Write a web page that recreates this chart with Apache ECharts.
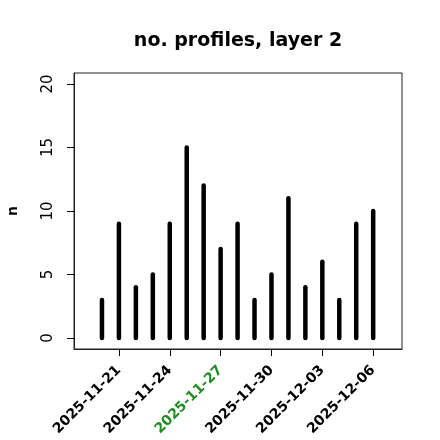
<!DOCTYPE html>
<html>
<head>
<meta charset="utf-8">
<script src="https://cdn.jsdelivr.net/npm/echarts@6/dist/echarts.min.js"></script>
<style>
  html, body { margin: 0; padding: 0; background: #fff; }
  #chart { width: 440px; height: 440px; }
</style>
</head>
<body>
<div id="chart"></div>
<script>
// daily counts
const dates = [
  '2025-11-20', '2025-11-21', '2025-11-22', '2025-11-23', '2025-11-24', '2025-11-25',
  '2025-11-26', '2025-11-27', '2025-11-28', '2025-11-29', '2025-11-30', '2025-12-01',
  '2025-12-02', '2025-12-03', '2025-12-04', '2025-12-05', '2025-12-06'
]
const counts = [3, 9, 4, 5, 9, 15, 12, 7, 9, 3, 5, 11, 4, 6, 3, 9, 10]
const xTickDates = ['2025-11-21', '2025-11-24', '2025-11-27', '2025-11-30', '2025-12-03', '2025-12-06']
const highlightDate = '2025-11-27'
const yTicks = [0, 5, 10, 15, 20]

const DAY = 86400000
const t0 = Date.parse(dates[0])
const toDay = d => (Date.parse(d) - t0) / DAY
const fromDay = v => new Date(t0 + Math.round(v) * DAY).toISOString().slice(0, 10)

const chart = echarts.init(document.getElementById('chart'), null, { renderer: 'canvas' })

const font = 'DejaVu Sans'
const option = {
  animation: false,
  backgroundColor: '#fff',
  title: {
    text: 'no. profiles, layer 2',
    left: 233,
    top: 27,
    textAlign: 'center',
    textStyle: { fontFamily: font, fontWeight: 'bold', fontSize: 19, color: '#000' }
  },
  grid: {
    left: 74, right: 38, top: 73, bottom: 91,
    outerBoundsMode: 'none',
    containLabel: false,
    show: true, borderColor: '#222', borderWidth: 1, backgroundColor: 'transparent'
  },
  xAxis: {
    type: 'value',
    min: -1.65,
    max: 17.7,
    splitLine: { show: false },
    axisLine: { show: true, onZero: false, lineStyle: { color: '#222', width: 1 } },
    axisTick: { show: true, length: 7, lineStyle: { color: '#000' }, customValues: xTickDates.map(toDay) },
    axisLabel: {
      customValues: xTickDates.map(toDay),
      rotate: 45,
      margin: 19,
      fontFamily: font,
      fontWeight: 'bold',
      fontSize: 14,
      color: '#000',
      formatter: v => {
        const s = fromDay(v)
        return s === highlightDate ? '{g|' + s + '}' : s
      },
      rich: {
        g: { color: '#228B22', fontFamily: font, fontWeight: 'bold', fontSize: 14 }
      }
    }
  },
  yAxis: {
    type: 'value',
    min: -0.86,
    max: 20.86,
    name: 'n',
    nameLocation: 'middle',
    nameGap: 54,
    nameRotate: 90,
    nameTextStyle: { fontFamily: font, fontWeight: 'bold', fontSize: 14, color: '#000' },
    splitLine: { show: false },
    axisLine: { show: true, onZero: false, lineStyle: { color: '#222', width: 1 } },
    axisTick: { show: true, length: 7, lineStyle: { color: '#000' }, customValues: yTicks },
    axisLabel: {
      customValues: yTicks,
      rotate: 90,
      margin: 18,
      fontFamily: font,
      fontSize: 15,
      color: '#000'
    }
  },
  series: [
    {
      type: 'custom',
      data: dates.map((d, i) => [toDay(d), counts[i]]),
      renderItem: (params, api) => {
        const top = api.coord([api.value(0), api.value(1)])
        const base = api.coord([api.value(0), 0])
        return {
          type: 'line',
          shape: { x1: base[0], y1: base[1], x2: top[0], y2: top[1] },
          style: { stroke: '#000', lineWidth: 4.5, lineCap: 'round' }
        }
      }
    }
  ]
}
chart.setOption(option)
</script>
</body>
</html>
